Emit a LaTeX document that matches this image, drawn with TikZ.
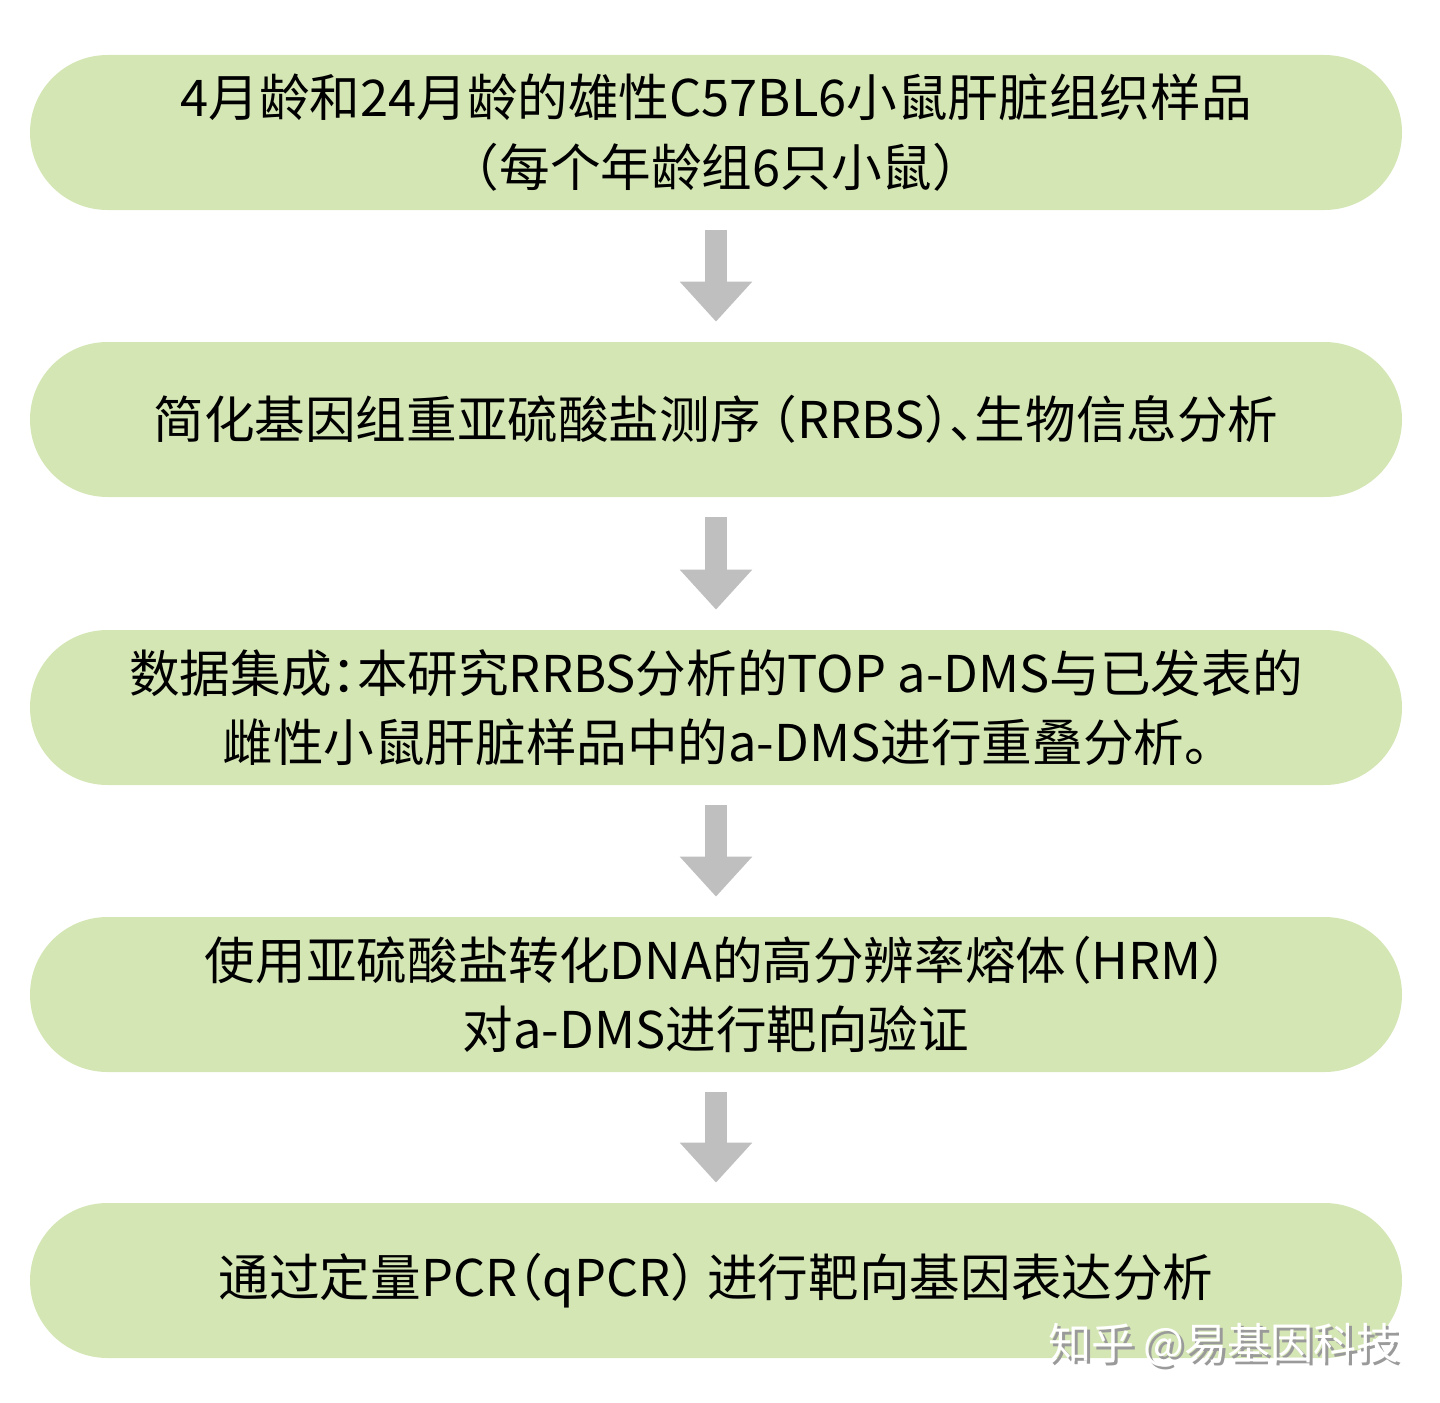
\documentclass[tikz,border=0pt]{standalone}
\usepackage{fontspec}
\setmainfont[RawFeature={+halt}]{Noto Sans CJK SC}
\usepackage{tikz}
\usetikzlibrary{arrows.meta,shapes.misc}
\definecolor{stepG}{HTML}{D5E6B5}
\definecolor{arrG}{HTML}{BFBFBF}
\definecolor{wmG}{HTML}{9A9A9A}

\begin{document}
\begin{tikzpicture}[
  every node/.style={font=\fontsize{28.8}{39.5}\selectfont},
  stepbox/.style={rounded rectangle, fill=stepG, draw=none,
              minimum width=27.44cm, minimum height=3.1cm, align=center, inner sep=0pt},
  flow/.style={-{Triangle[length=0.8cm, width=1.4cm]}, line width=0.44cm, arrG,
              shorten <=0.4cm, shorten >=0.4cm}
]
  \useasboundingbox (0,0) rectangle (28.8,-28.06);
  % ---- the five steps ----
  \node[stepbox] (sample) at (14.32,-2.65)
        {4月龄和24月龄的雄性C57BL6小鼠肝脏组织样品\\（每个年龄组6只小鼠）};
  \node[stepbox] (rrbs)   at (14.32,-8.39)
        {简化基因组重亚硫酸盐测序 （RRBS）、生物信息分析};
  \node[stepbox] (merge)  at (14.32,-14.15)
        {数据集成：本研究RRBS分析的TOP a-DMS与已发表的\\雌性小鼠肝脏样品中的a-DMS进行重叠分析。};
  \node[stepbox] (hrm)    at (14.32,-19.89)
        {使用亚硫酸盐转化DNA的高分辨率熔体（HRM）\\对a-DMS进行靶向验证};
  \node[stepbox] (qpcr)   at (14.32,-25.61)
        {通过定量PCR（qPCR） 进行靶向基因表达分析};
  % ---- block arrows between them ----
  \draw[flow] (sample.south) -- (rrbs.north);
  \draw[flow] (rrbs.south) -- (merge.north);
  \draw[flow] (merge.south) -- (hrm.north);
  \draw[flow] (hrm.south) -- (qpcr.north);
  % ---- watermark ----
  \node[font=\fontsize{24.5}{28}\selectfont, wmG] (wmshadow) at (24.54,-26.96) {知乎 @易基因科技};
  \node[font=\fontsize{24.5}{28}\selectfont, white] (wm) at (24.48,-26.9) {知乎 @易基因科技};
\end{tikzpicture}
\end{document}
